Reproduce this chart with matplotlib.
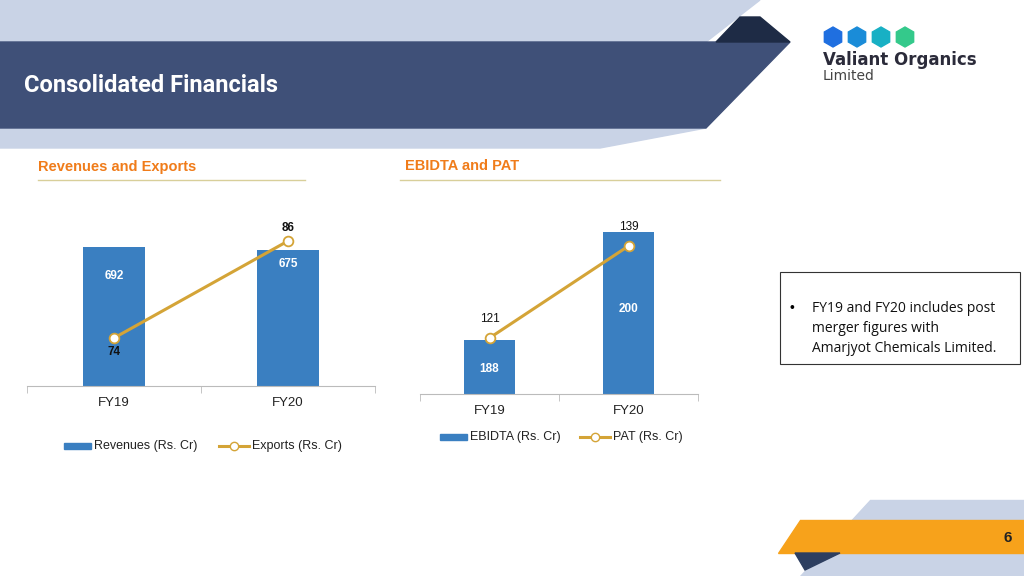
import matplotlib.pyplot as plt
from matplotlib.patches import Polygon, Rectangle, RegularPolygon
from matplotlib.lines import Line2D

plt.rcParams["font.family"] = ["Liberation Sans", "DejaVu Sans"]

years = ["FY19", "FY20"]
revenues = [692, 675]
exports = [74, 86]
ebidta = [188, 200]
pat = [121, 139]

W, H = 1024, 576
BAR = "#3A7FC1"
LINE = "#D4A437"

fig = plt.figure(figsize=(10.24, 5.76), dpi=100)
bg = fig.add_axes([0, 0, 1, 1])
bg.set_xlim(0, W)
bg.set_ylim(H, 0)
bg.axis("off")

# header shapes
bg.add_patch(Polygon([(0, 0), (760, 0), (706, 42), (0, 42)], color="#C9D3E6"))
bg.add_patch(Polygon([(0, 128), (706, 128), (600, 148), (0, 148)], color="#C9D3E6"))
bg.add_patch(Polygon([(0, 42), (790, 42), (706, 128), (0, 128)], color="#3F5078"))
bg.add_patch(Polygon([(740, 17), (760, 17), (790, 42), (716, 42)], color="#1E2B45"))
bg.text(24, 86, "Consolidated Financials", color="white", fontsize=17, fontweight="bold",
        family="Roboto", va="center")

# logo
for i, c in enumerate(["#1F6FE0", "#1A8CD8", "#18B0C4", "#34C98B"]):
    bg.add_patch(RegularPolygon((833 + i * 24, 37), 6, radius=10, color=c))
bg.text(823, 60, "Valiant Organics", fontsize=12, fontweight="bold", color="#2B2B3A",
        va="center", family="Montserrat" if False else "DejaVu Sans")
bg.text(823, 76, "Limited", fontsize=10, color="#444444", va="center", family="DejaVu Sans")

# section titles
bg.text(38, 167, "Revenues and Exports", color="#F07C1A", fontsize=10.5, fontweight="bold", va="center")
bg.plot([38, 305], [180, 180], color="#D8CF9A", lw=1)
bg.text(405, 166, "EBIDTA and PAT", color="#F07C1A", fontsize=10.5, fontweight="bold", va="center")
bg.plot([400, 720], [180, 180], color="#D8CF9A", lw=1)

# note box
bg.add_patch(Rectangle((780, 272), 240, 92, fill=False, ec="#333333", lw=0.8))
bg.text(790, 308, "•", fontsize=10, va="center")
for k, s in enumerate(["FY19 and FY20 includes post", "merger figures with", "Amarjyot Chemicals Limited."]):
    bg.text(812, 308 + k * 20, s, fontsize=10, va="center", family="Open Sans", color="#111111")

# footer
bg.add_patch(Polygon([(870, 500), (W, 500), (W, H), (800, H)], color="#C9D3E6"))
bg.add_patch(Polygon([(800, 520), (W, 520), (W, 553), (778, 553)], color="#F7A21B"))
bg.add_patch(Polygon([(795, 553), (840, 553), (805, 570)], color="#2D3E60"))
bg.text(1008, 538, "6", fontsize=11, fontweight="bold", va="center", ha="center", color="#222222")


def pix_axes(x0, y0, x1, y1):
    return fig.add_axes([x0 / W, 1 - y1 / H, (x1 - x0) / W, (y1 - y0) / H])


def chart(rect, bars, line, ylim, y2lim, bottom, lab_bar_dy, lab_line, line_bold):
    ax = pix_axes(*rect)
    ax.set_facecolor("none")
    x = range(len(years))
    ax.bar(x, [b - bottom for b in bars], bottom=bottom, width=0.36, color=BAR)
    ax.set_xlim(-0.5, 1.5)
    ax.set_ylim(*ylim)
    for s in ["top", "right", "left"]:
        ax.spines[s].set_visible(False)
    ax.spines["bottom"].set_color("#BBBBBB")
    ax.set_yticks([])
    ax.set_xticks([-0.5, 0.5, 1.5], minor=True)
    ax.tick_params(axis="x", which="minor", length=5, color="#BBBBBB")
    ax.set_xticks(list(x))
    ax.set_xticklabels(years, fontsize=9.5, color="#222222")
    ax.tick_params(axis="x", which="major", length=0, pad=8)
    for i, b in enumerate(bars):
        ax.annotate(str(b), (i, b), xytext=(0, lab_bar_dy[i]), textcoords="offset points",
                    ha="center", va="center", color="white", fontsize=8.5, fontweight="bold")
    ax2 = ax.twinx()
    ax2.set_ylim(*y2lim)
    ax2.axis("off")
    ax2.plot(list(x), line, color=LINE, lw=2.2, marker="o", ms=7, mfc="white", mec=LINE, mew=1.3)
    for i, v in enumerate(line):
        ax2.annotate(str(v), (i, v), xytext=(0, lab_line[i]), textcoords="offset points",
                     ha="center", va="center", fontsize=8.5, color="#111111",
                     fontweight="bold" if line_bold else "normal")
    return ax


chart((27, 200, 375, 386), revenues, exports, (0, 926), (68.06, 91.07), 0,
      [-21, -10], [-10, 9], True)
chart((420, 200, 698, 394), ebidta, pat, (182, 203.6), (110.04, 148.0), 182,
      [-21, -55], [14, 14], False)

# legends
def legend(x, y, labels, gap):
    bg.add_patch(Rectangle((x, y - 3), 27, 6, color=BAR))
    bg.text(x + 30, y, labels[0], fontsize=9, va="center", color="#222222")
    lx = x + gap
    bg.add_line(Line2D([lx, lx + 30], [y, y], color=LINE, lw=2.2))
    bg.plot([lx + 15], [y], "o", ms=6, mfc="white", mec=LINE)
    bg.text(lx + 33, y, labels[1], fontsize=9, va="center", color="#222222")


legend(64, 446, ["Revenues (Rs. Cr)", "Exports (Rs. Cr)"], 155)
legend(440, 437, ["EBIDTA (Rs. Cr)", "PAT (Rs. Cr)"], 140)

fig.savefig("out.png", dpi=100)
